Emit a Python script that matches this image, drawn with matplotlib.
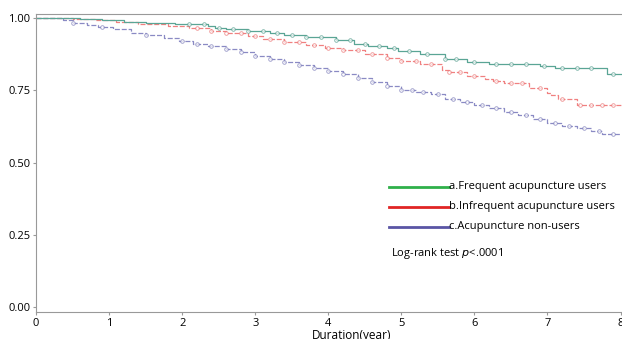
import numpy as np
import matplotlib.pyplot as plt

plt.rcParams['font.family'] = ['Open Sans', 'DejaVu Sans']

# Kaplan-Meier step curves (time in years, survival)
green_t = [0, 0.6, 0.9, 1.2, 1.5, 1.9, 2.35, 2.45, 2.6, 2.9, 3.2, 3.4, 3.7, 4.1, 4.35, 4.55, 4.8, 4.95,
           5.25, 5.6, 5.9, 6.2, 6.9, 7.1, 7.82, 8.0]
green_s = [1.0, 0.998, 0.994, 0.988, 0.984, 0.98, 0.972, 0.966, 0.962, 0.956, 0.947, 0.941, 0.933, 0.924,
           0.912, 0.904, 0.895, 0.886, 0.874, 0.86, 0.847, 0.84, 0.834, 0.828, 0.806, 0.806]
red_t = [0, 0.5, 0.8, 1.1, 1.4, 1.8, 2.1, 2.4, 2.6, 2.9, 3.1, 3.4, 3.7, 3.95, 4.2, 4.5, 4.8, 5.0, 5.25,
         5.55, 5.65, 5.9, 6.15, 6.25, 6.4, 6.75, 7.0, 7.05, 7.15, 7.4, 8.0]
red_s = [1.0, 0.997, 0.992, 0.985, 0.98, 0.974, 0.966, 0.957, 0.948, 0.938, 0.928, 0.916, 0.906, 0.898,
         0.889, 0.877, 0.862, 0.85, 0.84, 0.822, 0.812, 0.80, 0.79, 0.782, 0.774, 0.757, 0.74, 0.734,
         0.719, 0.70, 0.70]
blue_t = [0, 0.37, 0.5, 0.7, 0.85, 1.05, 1.3, 1.5, 1.75, 1.95, 2.15, 2.35, 2.6, 2.8, 3.0, 3.2, 3.4, 3.6,
          3.8, 4.0, 4.2, 4.4, 4.6, 4.8, 5.0, 5.2, 5.4, 5.6, 5.8, 6.0, 6.2, 6.4, 6.6, 6.8, 7.0, 7.2, 7.4,
          7.6, 7.75, 8.0]
blue_s = [1.0, 0.995, 0.984, 0.977, 0.97, 0.962, 0.95, 0.942, 0.93, 0.92, 0.912, 0.903, 0.892, 0.882,
          0.868, 0.858, 0.848, 0.838, 0.828, 0.816, 0.805, 0.792, 0.78, 0.766, 0.752, 0.745, 0.737, 0.72,
          0.71, 0.698, 0.688, 0.676, 0.664, 0.652, 0.638, 0.628, 0.62, 0.61, 0.60, 0.60]

# censoring times (open circles)
green_c = [2.1, 2.3, 2.5, 2.7, 2.9, 3.1, 3.3, 3.5, 3.7, 3.9, 4.1, 4.3, 4.5, 4.7, 4.9, 5.1, 5.35, 5.6,
           5.75, 6.0, 6.3, 6.5, 6.7, 6.95, 7.2, 7.4, 7.6, 7.9]
red_c = [2.2, 2.4, 2.6, 2.8, 3.0, 3.2, 3.4, 3.6, 3.8, 4.0, 4.2, 4.4, 4.6, 4.8, 5.0, 5.2, 5.4, 5.65, 5.8,
         6.0, 6.3, 6.5, 6.65, 6.9, 7.2, 7.45, 7.6, 7.75, 7.9]
blue_c = [0.5, 0.9, 1.5, 2.0, 2.2, 2.4, 2.6, 2.8, 3.0, 3.2, 3.4, 3.6, 3.8, 4.0, 4.2, 4.4, 4.6, 4.8, 5.0,
          5.15, 5.3, 5.5, 5.7, 5.9, 6.1, 6.3, 6.5, 6.7, 6.9, 7.1, 7.3, 7.5, 7.7, 7.9]

labels = ['a.Frequent acupuncture users', 'b.Infrequent acupuncture users', 'c.Acupuncture non-users']
curve_cols = ['#5aa595', '#f08080', '#8a8ac4']
edge_cols = ['#4f9a8a', '#ea7070', '#7a7ab8']
legend_cols = ['#2fb04a', '#e02525', '#5a55a5']
styles = ['-', (0, (4, 1.5)), (0, (4, 1.5))]


def surv_at(t, s, c):
    idx = np.searchsorted(t, c, side='right') - 1
    return np.asarray(s)[idx]


fig = plt.figure(figsize=(6.22, 3.39), dpi=100)
ax = fig.add_axes([0.058, 0.0796, 0.942, 0.879])

groups = [(green_t, green_s, green_c), (red_t, red_s, red_c), (blue_t, blue_s, blue_c)]
for i in [2, 1, 0]:
    t, s, c = groups[i]
    ax.step(t, s, where='post', color=curve_cols[i], lw=0.9, linestyle=styles[i])
    ax.plot(c, surv_at(t, s, c), 'o', ms=2.6, mfc='white', mec=edge_cols[i], mew=0.6, alpha=0.75)

ax.set_xlim(0, 8.02)
ax.set_ylim(-0.017, 1.014)
ax.set_xticks(range(0, 9))
ax.set_yticks([0, 0.25, 0.5, 0.75, 1.0])
ax.set_yticklabels(['0.00', '0.25', '0.50', '0.75', '1.00'])
ax.tick_params(labelsize=8, length=2, color='#999999', pad=2)
for sp in ['left', 'bottom', 'top']:
    ax.spines[sp].set_color('#999999')
ax.spines['right'].set_visible(False)

# legend drawn as lines + text
for i in range(3):
    yy = 0.42 - i * 0.067
    ax.plot([0.603, 0.705], [yy, yy], transform=ax.transAxes, color=legend_cols[i], lw=2, clip_on=False)
    ax.text(0.705, yy, labels[i], transform=ax.transAxes, fontsize=8, va='center', ha='left')
ax.text(0.606, 0.198, 'Log-rank test $\\it{p}$<.0001', transform=ax.transAxes, fontsize=8, va='center')

fig.text(0.565, 0.01, 'Duration(year)', fontsize=8.5, ha='center', va='center')

fig.savefig('out.png', dpi=100)
